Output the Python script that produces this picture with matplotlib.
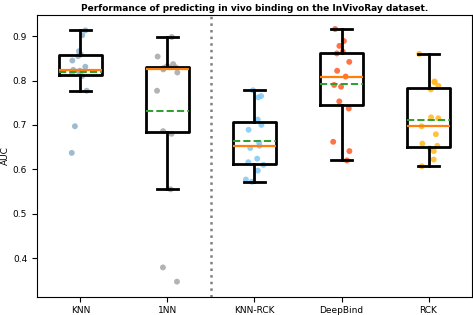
import matplotlib.pyplot as plt
import numpy as np

methods = ['KNN', '1NN', 'KNN-RCK', 'DeepBind', 'RCK']

knn = [0.637, 0.697, 0.777, 0.810, 0.816, 0.820, 0.822, 0.824, 0.831, 0.845,
       0.855, 0.859, 0.866, 0.902, 0.913]
nn1 = [0.347, 0.379, 0.555, 0.680, 0.686, 0.777, 0.818, 0.825, 0.828, 0.830,
       0.830, 0.832, 0.837, 0.854, 0.898]
knn_rck = [0.572, 0.577, 0.597, 0.610, 0.616, 0.624, 0.648, 0.653, 0.660, 0.689,
           0.700, 0.712, 0.762, 0.765, 0.778]
deepbind = [0.620, 0.641, 0.662, 0.737, 0.753, 0.786, 0.790, 0.809, 0.822, 0.842,
            0.861, 0.865, 0.878, 0.889, 0.916]
rck = [0.607, 0.622, 0.641, 0.647, 0.653, 0.658, 0.679, 0.697, 0.715, 0.717,
       0.780, 0.788, 0.796, 0.798, 0.860]

data = [knn, nn1, knn_rck, deepbind, rck]
colors = ['#8fb0c6', '#a6a6a6', '#80c8f5', '#ff5a26', '#ffb81c']


def plot_auc():
    fig = plt.figure(figsize=(4.73, 3.15), dpi=100)
    ax = fig.add_axes([0.078, 0.058, 0.92, 0.895])

    rng = np.random.default_rng(3)
    for i, (vals, col) in enumerate(zip(data, colors)):
        xs = i + 1 + rng.uniform(-0.12, 0.12, len(vals))
        ax.scatter(xs, vals, s=18, color=col, alpha=0.85, edgecolors='none', zorder=1)

    ax.boxplot(data, widths=0.5, showfliers=False, showmeans=True, meanline=True,
               boxprops=dict(color='black', linewidth=2),
               whiskerprops=dict(color='black', linewidth=2),
               capprops=dict(color='black', linewidth=2),
               medianprops=dict(color='#ff7f0e', linewidth=1.6),
               meanprops=dict(color='#2ca02c', linewidth=1.4, linestyle='--'))

    ax.axvline(2.5, color='gray', linestyle=':', linewidth=1.8)

    ax.set_xlim(0.5, 5.5)
    ax.set_ylim(0.313, 0.948)
    ax.set_xticks(range(1, 6))
    ax.set_xticklabels(methods, fontsize=6.5)
    ax.set_yticks([0.4, 0.5, 0.6, 0.7, 0.8, 0.9])
    ax.tick_params(axis='y', labelsize=6.5)
    ax.set_ylabel('AUC', fontsize=6.5, labelpad=2)
    ax.set_title('Performance of predicting in vivo binding on the InVivoRay dataset.',
                 fontsize=6.5, fontweight='bold', pad=3)

    fig.savefig('out.png', dpi=100)


if __name__ == "__main__":
    plot_auc()
